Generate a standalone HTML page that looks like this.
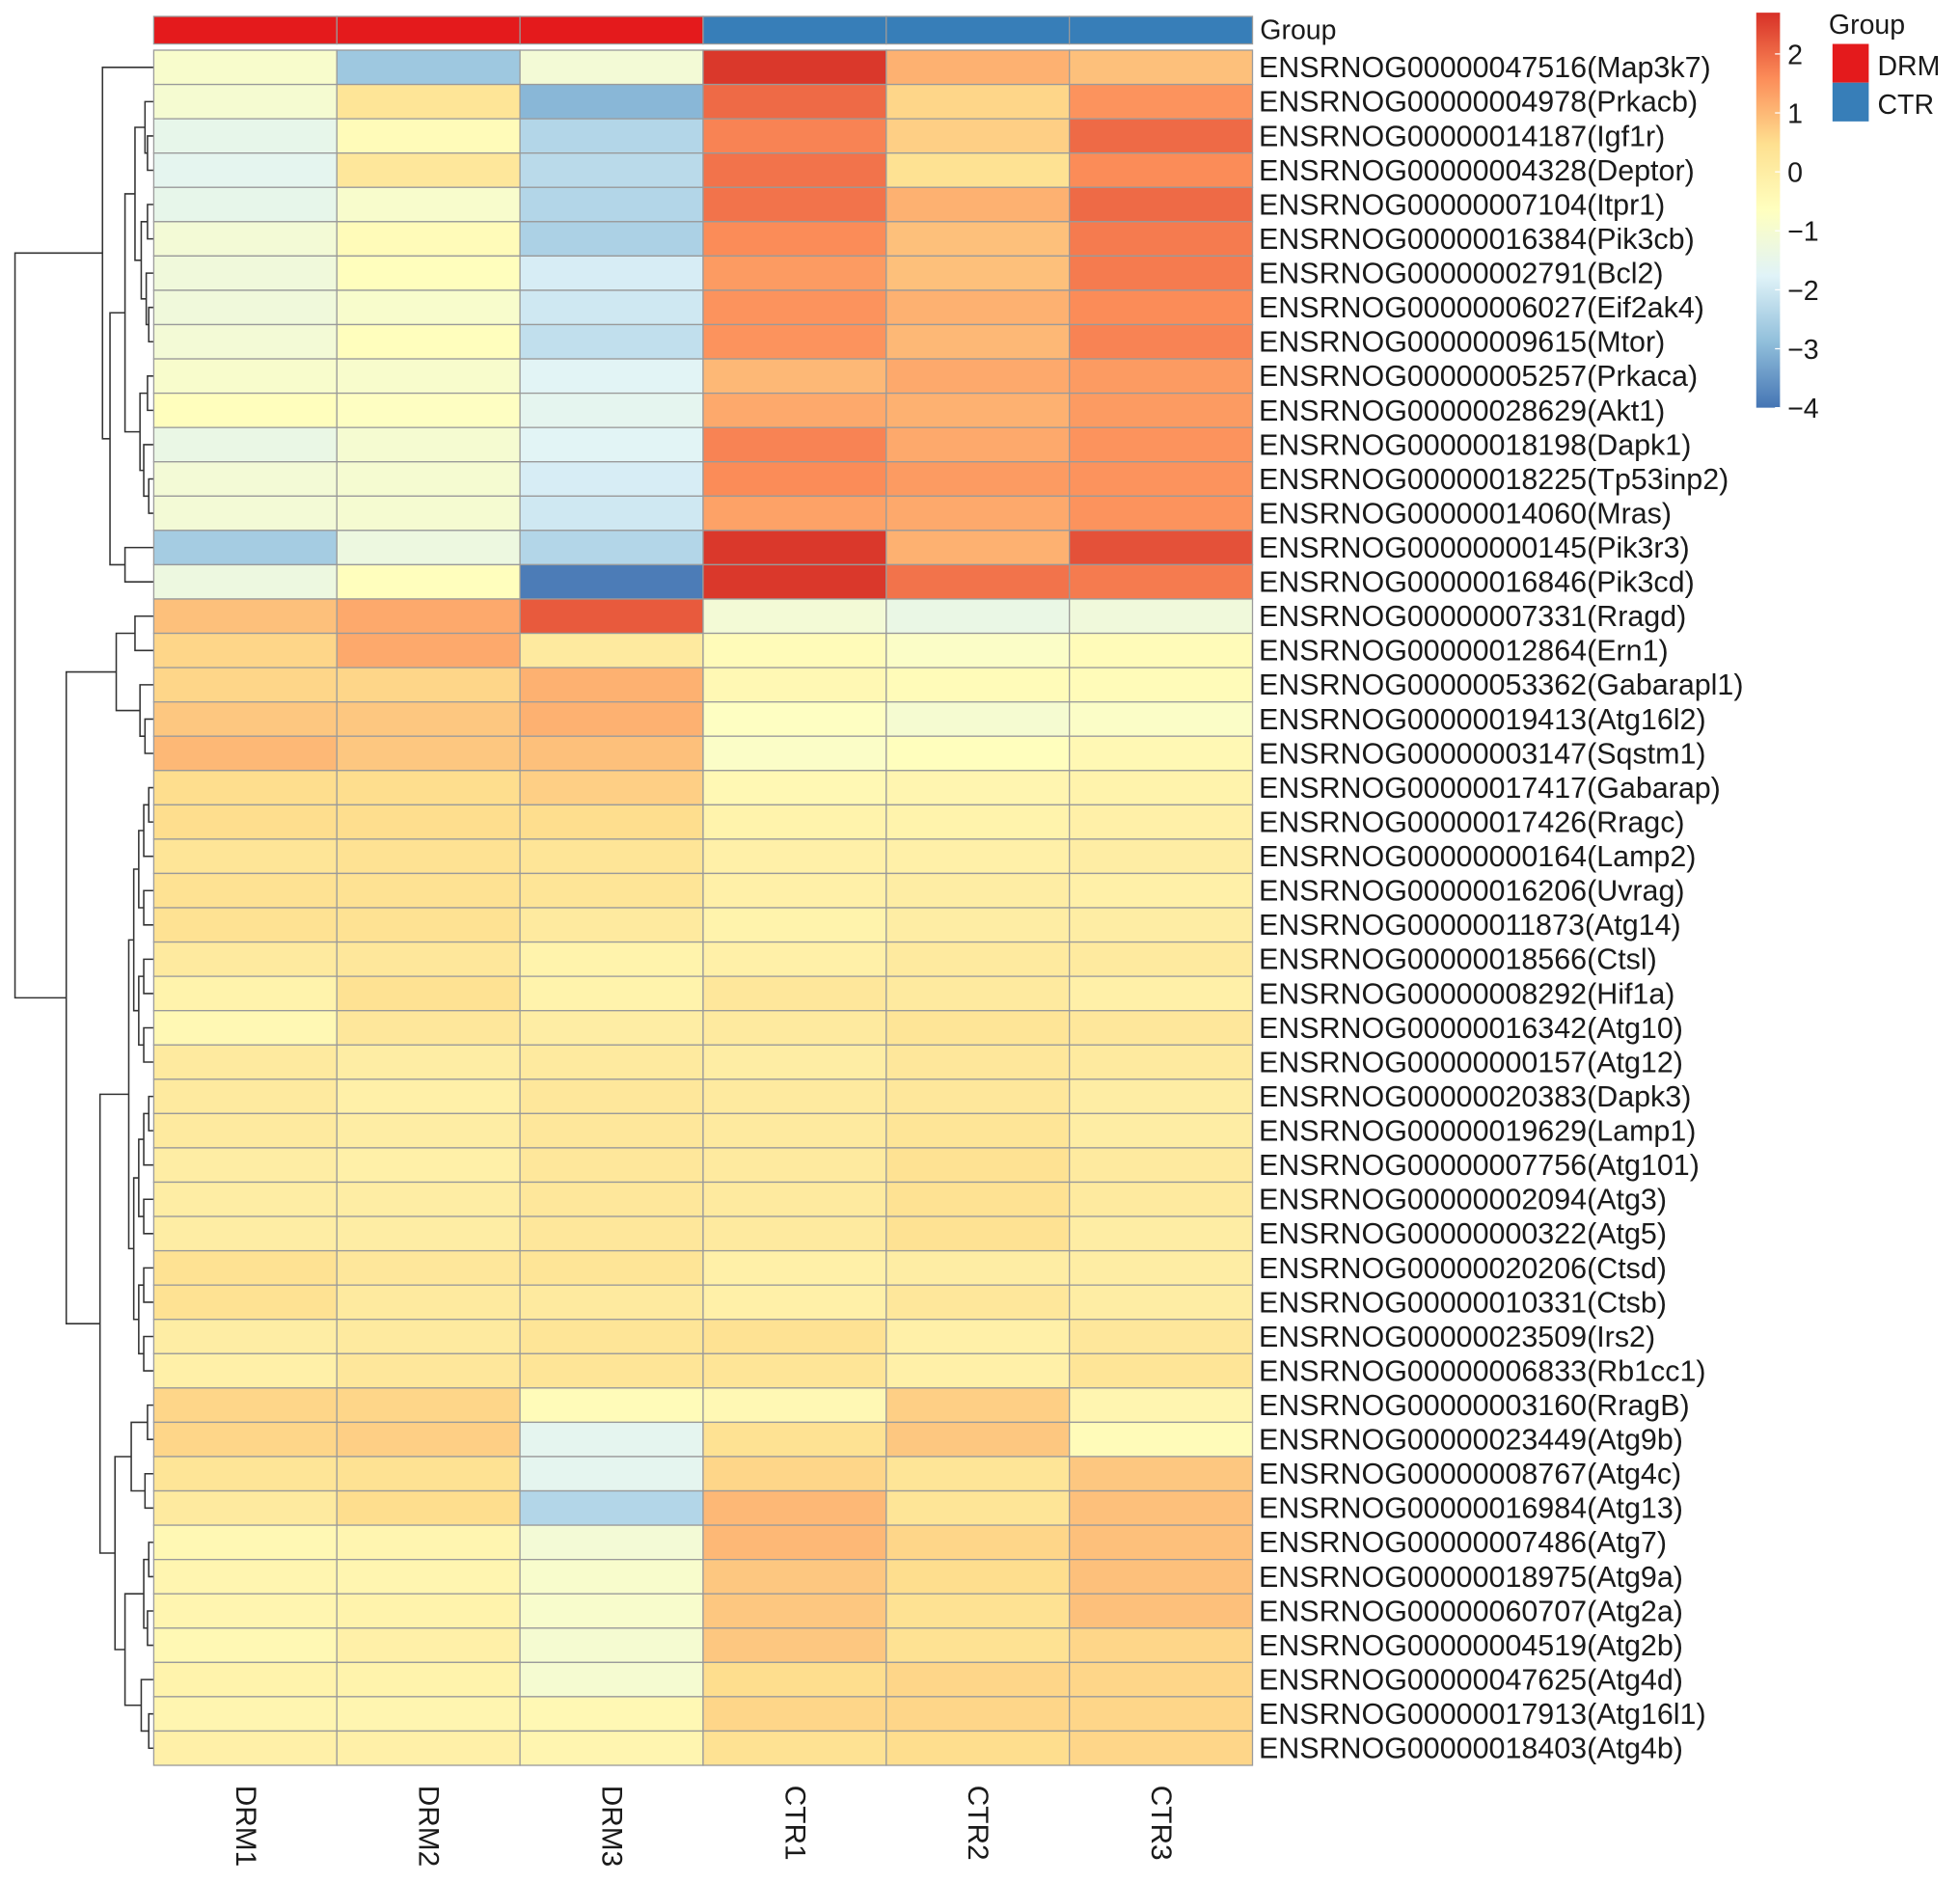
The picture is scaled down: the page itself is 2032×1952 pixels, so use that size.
<!DOCTYPE html>
<html><head><meta charset="utf-8"><style>
html,body{margin:0;padding:0;background:#fff;}
svg{display:block;}
text{font-family:"Liberation Sans",sans-serif;fill:#1a1a1a;}
</style></head><body>
<svg id="chart" width="2032" height="1952" viewBox="0 0 1568 1506" xmlns="http://www.w3.org/2000/svg">
<g id="dendro"></g>
<g id="groupbar"></g>
<g id="cells"></g>
<g id="rowlabels"></g>
<g id="collabels"></g>
<text x="1008" y="31" font-size="22">Group</text>
<defs><linearGradient id="cg" x1="0" y1="1" x2="0" y2="0">
<stop offset="0" stop-color="#4575B4"/><stop offset="0.1667" stop-color="#91BFDB"/><stop offset="0.3333" stop-color="#E0F3F8"/><stop offset="0.5" stop-color="#FFFFBF"/><stop offset="0.6667" stop-color="#FEE090"/><stop offset="0.8333" stop-color="#FC8D59"/><stop offset="1" stop-color="#D73027"/></linearGradient></defs>
<rect x="1405" y="10" width="19" height="316" fill="url(#cg)"/>
<g id="cticks"></g>
<text x="1463" y="27" font-size="22">Group</text>
<rect x="1466" y="35" width="29" height="31" fill="#E41A1C"/>
<rect x="1466" y="66" width="29" height="31" fill="#377EB8"/>
<text x="1502" y="60" font-size="22">DRM</text>
<text x="1502" y="91" font-size="22">CTR</text>
</svg>
<script>
const samples = ["DRM1","DRM2","DRM3","CTR1","CTR2","CTR3"];
const groups = ["DRM","DRM","DRM","CTR","CTR","CTR"];
const genes = ["ENSRNOG00000047516(Map3k7)","ENSRNOG00000004978(Prkacb)","ENSRNOG00000014187(Igf1r)","ENSRNOG00000004328(Deptor)","ENSRNOG00000007104(Itpr1)","ENSRNOG00000016384(Pik3cb)","ENSRNOG00000002791(Bcl2)","ENSRNOG00000006027(Eif2ak4)","ENSRNOG00000009615(Mtor)","ENSRNOG00000005257(Prkaca)","ENSRNOG00000028629(Akt1)","ENSRNOG00000018198(Dapk1)","ENSRNOG00000018225(Tp53inp2)","ENSRNOG00000014060(Mras)","ENSRNOG00000000145(Pik3r3)","ENSRNOG00000016846(Pik3cd)","ENSRNOG00000007331(Rragd)","ENSRNOG00000012864(Ern1)","ENSRNOG00000053362(Gabarapl1)","ENSRNOG00000019413(Atg16l2)","ENSRNOG00000003147(Sqstm1)","ENSRNOG00000017417(Gabarap)","ENSRNOG00000017426(Rragc)","ENSRNOG00000000164(Lamp2)","ENSRNOG00000016206(Uvrag)","ENSRNOG00000011873(Atg14)","ENSRNOG00000018566(Ctsl)","ENSRNOG00000008292(Hif1a)","ENSRNOG00000016342(Atg10)","ENSRNOG00000000157(Atg12)","ENSRNOG00000020383(Dapk3)","ENSRNOG00000019629(Lamp1)","ENSRNOG00000007756(Atg101)","ENSRNOG00000002094(Atg3)","ENSRNOG00000000322(Atg5)","ENSRNOG00000020206(Ctsd)","ENSRNOG00000010331(Ctsb)","ENSRNOG00000023509(Irs2)","ENSRNOG00000006833(Rb1cc1)","ENSRNOG00000003160(RragB)","ENSRNOG00000023449(Atg9b)","ENSRNOG00000008767(Atg4c)","ENSRNOG00000016984(Atg13)","ENSRNOG00000007486(Atg7)","ENSRNOG00000018975(Atg9a)","ENSRNOG00000060707(Atg2a)","ENSRNOG00000004519(Atg2b)","ENSRNOG00000047625(Atg4d)","ENSRNOG00000017913(Atg16l1)","ENSRNOG00000018403(Atg4b)"];
const values = [
[-0.9,-2.7,-1.1,2.6,1.1,0.9],[-1.0,0.3,-3.0,2.0,0.6,1.5],[-1.5,-0.5,-2.4,1.7,0.7,2.0],[-1.6,0.2,-2.3,1.9,0.4,1.6],
[-1.5,-0.9,-2.4,1.9,1.1,2.0],[-1.1,-0.5,-2.5,1.6,0.9,1.8],[-1.2,-0.6,-1.9,1.4,0.9,1.8],[-1.2,-0.9,-2.0,1.5,1.1,1.6],
[-1.1,-0.6,-2.2,1.5,1.0,1.7],[-0.9,-0.9,-1.7,1.0,1.2,1.4],[-0.6,-0.7,-1.6,1.2,1.1,1.4],[-1.4,-1.0,-1.7,1.7,1.2,1.5],
[-1.1,-1.0,-1.9,1.6,1.4,1.5],[-1.1,-1.0,-2.0,1.3,1.2,1.5],[-2.6,-1.3,-2.4,2.6,1.1,2.3],[-1.3,-0.6,-3.9,2.6,1.9,1.8],
[0.9,1.2,2.2,-1.1,-1.4,-1.2],[0.6,1.2,0.1,-0.5,-0.8,-0.5],[0.6,0.6,1.1,-0.4,-0.5,-0.5],[0.8,0.8,1.1,-0.7,-1.0,-0.8],
[1.0,0.8,0.9,-0.8,-0.6,-0.4],[0.5,0.5,0.7,-0.4,-0.3,-0.2],[0.5,0.5,0.5,-0.2,-0.2,-0.1],[0.3,0.4,0.3,-0.1,-0.1,0.0],
[0.4,0.4,0.3,-0.1,0.0,-0.1],[0.4,0.4,0.1,-0.2,0.0,0.0],[0.1,0.2,-0.2,-0.1,0.1,0.1],[-0.2,0.4,-0.2,0.2,0.1,-0.1],
[-0.4,0.2,0.0,0.1,0.3,0.2],[0.1,0.0,0.1,0.0,0.2,0.1],[0.1,-0.1,0.2,0.1,0.2,0.0],[0.1,0.0,0.2,0.1,0.3,0.0],
[0.0,-0.1,0.2,0.1,0.4,0.1],[0.0,0.0,0.2,0.1,0.4,0.1],[0.0,0.0,0.2,0.1,0.4,0.0],[0.4,0.2,0.3,-0.1,0.0,0.0],
[0.4,0.1,0.1,-0.1,0.2,0.0],[0.0,0.1,0.3,0.4,-0.1,0.2],[-0.1,0.2,0.3,0.3,-0.1,0.3],[0.6,0.6,-0.5,-0.4,0.7,-0.3],
[0.6,0.7,-1.6,0.4,0.8,-0.5],[0.3,0.4,-1.6,0.6,0.3,0.8],[0.1,0.5,-2.4,1.0,0.3,0.9],[-0.4,-0.3,-1.1,1.0,0.6,0.9],
[-0.3,-0.3,-0.9,0.8,0.5,0.9],[-0.3,-0.2,-0.9,0.8,0.4,0.9],[-0.4,-0.1,-1.0,0.8,0.4,0.6],[-0.2,-0.2,-1.0,0.5,0.6,0.6],
[-0.3,-0.3,-0.4,0.6,0.6,0.6],[-0.1,-0.1,-0.3,0.4,0.5,0.6]];
const scaleTicks = [2,1,0,-1,-2,-3,-4];
const scaleMin = -4, scaleMax = 2.7;

const NS="http://www.w3.org/2000/svg";
const X0=123,X1=1002,Y0=40,Y1=1412;
const cw=(X1-X0)/samples.length, rh=(Y1-Y0)/genes.length;
const xCol=i=>X0+i*cw, yRow=i=>Y0+i*rh;
const pal=[[69,117,180],[145,191,219],[224,243,248],[255,255,191],[254,224,144],[252,141,89],[215,48,39]];
function color(v){let t=(v-scaleMin)/(scaleMax-scaleMin);t=Math.max(0,Math.min(1,t))*6;let k=Math.min(5,Math.floor(t)),f=t-k;
 const c=pal[k].map((a,j)=>Math.round(a+(pal[k+1][j]-a)*f));return `rgb(${c})`;}
function mk(tag,attrs,parent){const e=document.createElementNS(NS,tag);for(const k in attrs)e.setAttribute(k,attrs[k]);parent.appendChild(e);return e;}
const cells=document.getElementById('cells');
values.forEach((row,r)=>row.forEach((v,c)=>{
 const e=mk('rect',{x:xCol(c),y:yRow(r),width:cw,height:rh,fill:color(v),stroke:'#9a9a9a','stroke-width':1},cells);
 
 
}));
const gb=document.getElementById('groupbar');
groups.forEach((g,c)=>{
 const e=mk('rect',{x:xCol(c),y:13,width:cw,height:22,fill:g==='DRM'?'#E41A1C':'#377EB8',stroke:'#9a9a9a','stroke-width':1},gb);
 
 
});
const rl=document.getElementById('rowlabels');
genes.forEach((g,r)=>{
 const e=mk('text',{x:1007,y:yRow(r)+rh/2+8,'font-size':23.5},rl);e.textContent=g;
 
 
});
const cl=document.getElementById('collabels');
samples.forEach((s,c)=>{
 const cx=xCol(c)+cw/2,y=1428;
 const e=mk('text',{x:0,y:0,'font-size':23,'dominant-baseline':'central',transform:`translate(${cx},${y}) rotate(90)`},cl);e.textContent=s;
 
 
});
const ct=document.getElementById('cticks');
scaleTicks.forEach(t=>{
 const y=10+(scaleMax-t)/(scaleMax-scaleMin)*316;
 mk('line',{x1:1420,x2:1424,y1:y,y2:y,stroke:'#fff','stroke-width':1},ct);
 const e=mk('text',{x:1430,y:y+8,'font-size':22},ct);e.textContent=t<0?'\u2212'+(-t):String(t);
 
 
});
// dendrogram
function bal(lo,hi,h){if(lo===hi)return lo;const m=Math.floor((lo+hi)/2);return [h,bal(lo,m,Math.min(h+4,121)),bal(m+1,hi,Math.min(h+4,121))];}
const topTree=[82,0,[88,[100,[108,[116,1,[118,2,3]],[113,[118,4,5],[117,6,[119,7,8]]]],[112,[118,9,10],[115,11,[119,12,13]]]],[100,14,15]]];
const bottomTree=[53,[93,[108,16,17],[112,18,[116,19,20]]],[80,bal(21,38,103),[92,[105,[118,39,40],[116,41,42]],[100,[115,[119,43,44],[118,45,46]],[113,47,[119,48,49]]]]]];
const rootTree=[12,topTree,bottomTree];
const dg=document.getElementById('dendro');let dpath='';
function drawNode(n){if(typeof n==='number')return {x:X0,y:yRow(n)+rh/2};
 const a=drawNode(n[1]),b=drawNode(n[2]),x=n[0];
 dpath+=`M${a.x},${a.y}H${x}V${b.y}H${b.x}`;return {x:x,y:(a.y+b.y)/2};}
drawNode(rootTree);
const dp=mk('path',{d:dpath,fill:'none',stroke:'#333','stroke-width':1.2},dg);


</script>
</body></html>
